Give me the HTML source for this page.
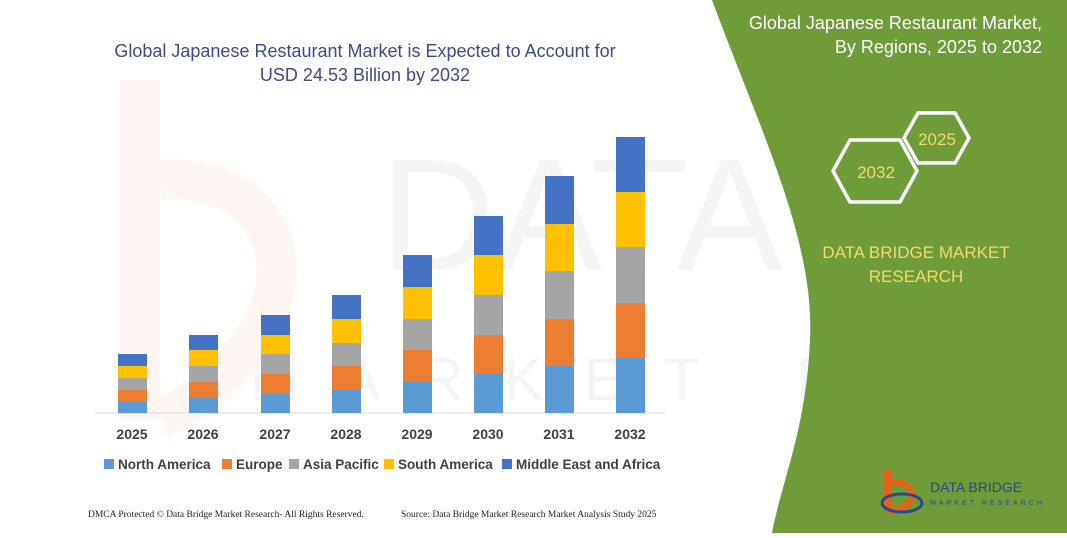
<!DOCTYPE html>
<html><head><meta charset="utf-8"><style>
body{margin:0;width:1067px;height:533px;overflow:hidden;background:#fff;font-family:"Liberation Sans",sans-serif}
</style></head><body>
<svg width="1067" height="533" viewBox="0 0 1067 533" xmlns="http://www.w3.org/2000/svg">
<rect width="1067" height="533" fill="#fff"/>
<g opacity="0.05">
<path d="M120,80 L160,80 L160,420 L120,420 Z" fill="#e8601c"/>
<path d="M160,180 C300,170 330,330 160,420" fill="none" stroke="#e8601c" stroke-width="40"/>
<text x="380" y="270" font-size="160" fill="#555" font-family="Liberation Sans">DATA BRIDGE</text>
<text x="250" y="400" font-size="60" fill="#555" letter-spacing="40">MARKET RESEARCH</text>
</g>
<path d="M712,0 C760,130 815,240 810,340 C806,430 782,480 772,533 L1067,533 L1067,0 Z" fill="#6f9c38"/>
<text x="365" y="57" text-anchor="middle" font-size="18" fill="#3e4a8a">Global Japanese Restaurant Market is Expected to Account for</text>
<text x="365" y="81" text-anchor="middle" font-size="18" fill="#3e4a8a">USD 24.53 Billion by 2032</text>
<text x="1042" y="29" text-anchor="end" font-size="18" fill="#fff">Global Japanese Restaurant Market,</text>
<text x="1042" y="53" text-anchor="end" font-size="18" fill="#fff">By Regions, 2025 to 2032</text>
<polygon points="904,138 918,113 955,113 969,138 955,163 918,163" fill="none" stroke="#fff" stroke-width="3.5"/>
<text x="937" y="145" text-anchor="middle" font-size="17" fill="#f0dc6a">2025</text>
<polygon points="833,171 850,140 900,140 917,171 900,202 850,202" fill="none" stroke="#fff" stroke-width="3.5"/>
<text x="876" y="178" text-anchor="middle" font-size="17" fill="#f0dc6a">2032</text>
<text x="916" y="258" text-anchor="middle" font-size="17" fill="#f0dc6a">DATA BRIDGE MARKET</text>
<text x="916" y="282" text-anchor="middle" font-size="17" fill="#f0dc6a">RESEARCH</text>
<line x1="95" y1="413" x2="665" y2="413" stroke="#d9d9d9" stroke-width="1"/>
<g id="bars"></g>
<g font-size="14" font-weight="bold" fill="#404040" text-anchor="middle">
<text x="132" y="439">2025</text><text x="203" y="439">2026</text><text x="275" y="439">2027</text><text x="346" y="439">2028</text>
<text x="417" y="439">2029</text><text x="488" y="439">2030</text><text x="559" y="439">2031</text><text x="630" y="439">2032</text>
</g>
<g font-size="13.5" font-weight="bold" fill="#404040">
<rect x="104" y="459" width="10" height="10" fill="#5b9bd5"/><text x="118" y="469">North America</text>
<rect x="222" y="459" width="10" height="10" fill="#ed7d31"/><text x="236" y="469">Europe</text>
<rect x="289" y="459" width="10" height="10" fill="#a5a5a5"/><text x="303" y="469">Asia Pacific</text>
<rect x="384" y="459" width="10" height="10" fill="#ffc000"/><text x="398" y="469">South America</text>
<rect x="502" y="459" width="10" height="10" fill="#4472c4"/><text x="516" y="469">Middle East and Africa</text>
</g>
<text x="88" y="517" font-size="9.5" fill="#222" font-family="Liberation Serif">DMCA Protected © Data Bridge Market Research-  All Rights Reserved.</text>
<text x="401" y="517" font-size="9.5" fill="#222" font-family="Liberation Serif">Source: Data Bridge Market Research  Market Analysis Study 2025</text>
<rect x="884" y="470" width="8" height="40" fill="#e8601c"/>
<path d="M888,483 C915,478 925,505 888,512" fill="none" stroke="#e8601c" stroke-width="6"/>
<ellipse cx="902" cy="503" rx="20" ry="9" fill="none" stroke="#2c4a8a" stroke-width="3"/>
<text x="930" y="492" font-size="14" fill="#2c4a8a">DATA BRIDGE</text>
<text x="930" y="505" font-size="7" fill="#2c4a8a" letter-spacing="3">MARKET RESEARCH</text>
</svg>
<script>
var xs=[118,189,261,332,403,474,545,616];
var ys=[[413,402,390,378,366,354],[413,398,382,366,350,335],[413,394,374,354,335,315],[413,390,366,343,319,295],[413,382,350,319,287,255],[413,374,335,295,255,216],[413,366,319,271,224,176],[413,358,303,247,192,137]];
var cols=["#5b9bd5","#ed7d31","#a5a5a5","#ffc000","#4472c4"];
var g=document.getElementById("bars"),s="";
for(var i=0;i<8;i++)for(var j=0;j<5;j++){s+='<rect x="'+xs[i]+'" y="'+ys[i][j+1]+'" width="29" height="'+(ys[i][j]-ys[i][j+1])+'" fill="'+cols[j]+'"/>';}
g.innerHTML=s;
</script>
</body></html>
